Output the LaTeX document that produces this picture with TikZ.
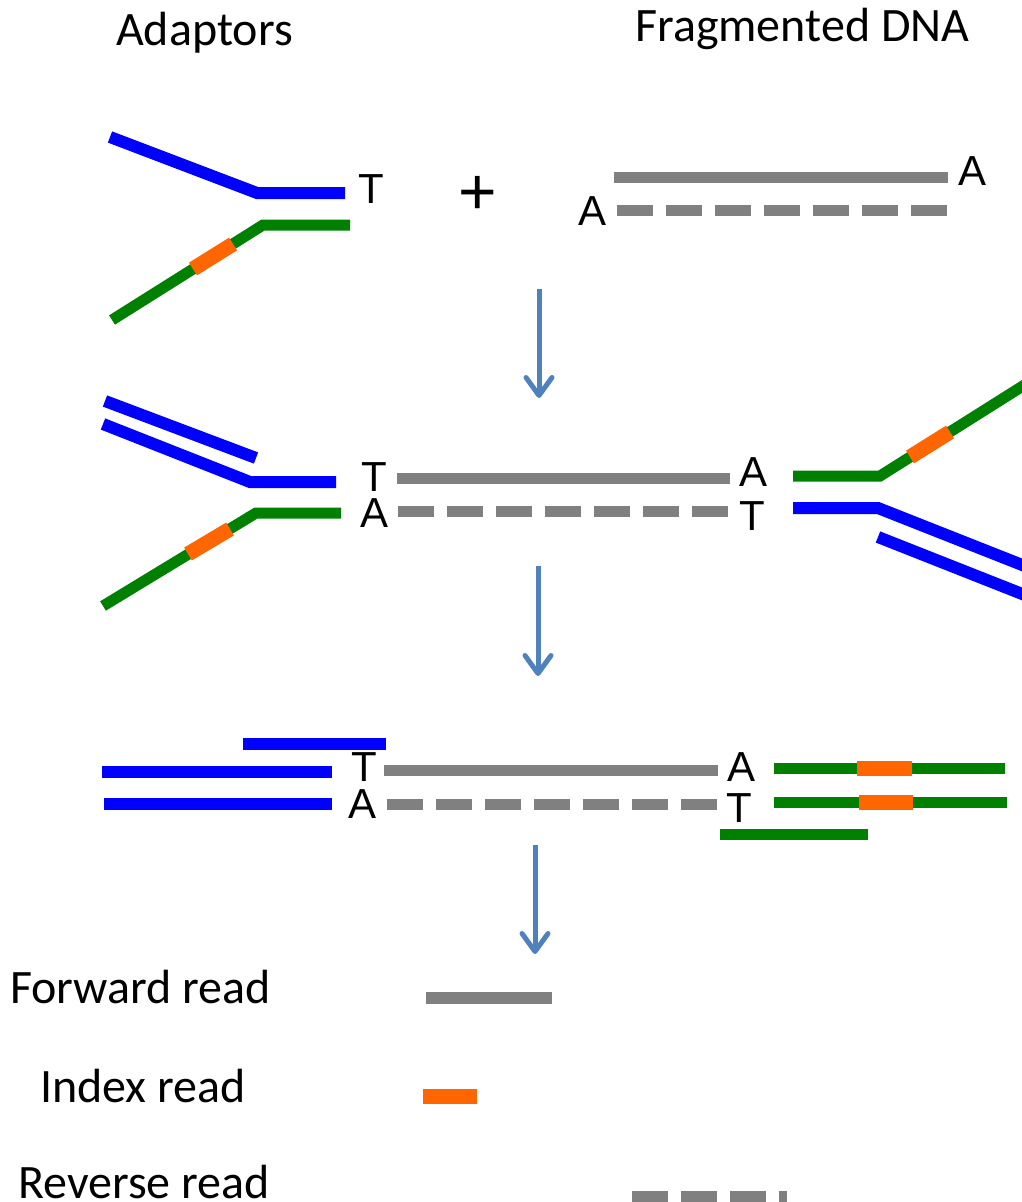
\documentclass[tikz,border=0pt]{standalone}
\usepackage{fontspec}
\setmainfont{Carlito}
\newfontfamily\basefont{Liberation Sans}
\usetikzlibrary{arrows.meta}
\definecolor{dnablue}{HTML}{0000FF}
\definecolor{dnagreen}{HTML}{008000}
\definecolor{dnagray}{HTML}{808080}
\definecolor{dnaorange}{HTML}{FF6600}
\definecolor{steparrow}{HTML}{4F81BD}
\tikzset{
  bluestrand/.style={draw=dnablue,line width=12pt,line join=miter},
  greenstrand/.style={draw=dnagreen,line width=11pt,line join=miter},
  graystrand/.style={draw=dnagray,line width=11pt},
  graydash/.style={draw=dnagray,line width=11pt,dash pattern=on 36pt off 13pt},
  indexbox/.style={draw=dnaorange,line width=15pt},
  baselabel/.style={font=\basefont\fontsize{42}{48}\selectfont,inner sep=0pt,text height=30pt,text depth=0pt},
  titlelabel/.style={font=\fontsize{48}{56}\selectfont,inner sep=0pt,anchor=base west},
  steparrowstyle/.style={draw=steparrow,line width=5pt,-{Straight Barb[length=18pt,width=26pt,line cap=round,line join=round]}}
}
\begin{document}
\begin{tikzpicture}[x=1pt,y=-1pt]
\useasboundingbox (0,0) rectangle (1022,1202);
\clip (0,0) rectangle (1022,1202);

% titles
\node[titlelabel] (tadapt) at (116,45) {Adaptors};
\node[titlelabel] (tfrag) at (635,41) {Fragmented DNA};

% ---------- stage 1 ----------
\draw[bluestrand] (110,137) -- (257,193) -- (345,193);
\draw[greenstrand] (350,225) -- (263,225) -- (112,320);
\draw[indexbox] (193,269) -- (233,244);
\node[baselabel] (t1) at (371,188) {T};
\node[font=\basefont\fontsize{66}{70}\selectfont,inner sep=0pt] (plus) at (478,195) {+};
\draw[graystrand] (614,177) -- (948,177);
\draw[graydash] (617,210) -- (947,210);
\node[baselabel] (a1r) at (972,170) {A};
\node[baselabel] (a1l) at (593,210) {A};

% arrow 1
\coordinate (s1a) at (539,289);
\coordinate (s1b) at (539,398);
\draw[steparrowstyle] (s1a) -- (s1b);

% ---------- stage 2 ----------
\draw[bluestrand] (105,401) -- (256,458);
\draw[bluestrand] (103,424) -- (250,482) -- (336,482);
\draw[greenstrand] (341,513) -- (256,513) -- (103,606);
\draw[indexbox] (188,554) -- (230,529);
\node[baselabel] (t2) at (374,476) {T};
\node[baselabel] (a2) at (375,512) {A};
\draw[graystrand] (397,478) -- (730,478);
\draw[graydash] (398,511) -- (728,511);
\node[baselabel] (a2r) at (753,471) {A};
\node[baselabel] (t2r) at (752,515) {T};
\draw[greenstrand] (793,476) -- (880,476) -- (1045,372);
\draw[indexbox] (910,457) -- (950,432);
\draw[bluestrand] (793,508) -- (878,508) -- (1045,574);
\draw[bluestrand] (878,537) -- (1045,603);

% arrow 2
\coordinate (s2a) at (538,566);
\coordinate (s2b) at (538,676);
\draw[steparrowstyle] (s2a) -- (s2b);

% ---------- stage 3 ----------
\draw[bluestrand] (243,744) -- (386,744);
\draw[bluestrand] (102,772) -- (332,772);
\draw[bluestrand] (104,804) -- (332,804);
\node[baselabel] (t3) at (364,766) {T};
\node[baselabel] (a3) at (363,803) {A};
\draw[graystrand] (384,770) -- (718,770);
\draw[graydash] (387,804) -- (717,804);
\node[baselabel] (a3r) at (741,766) {A};
\node[baselabel] (t3r) at (739,807) {T};
\draw[greenstrand] (774,768) -- (1005,768);
\draw[indexbox] (857,768) -- (912,768);
\draw[greenstrand] (774,802) -- (1007,802);
\draw[indexbox] (859,802) -- (913,802);
\draw[greenstrand] (720,834) -- (868,834);

% arrow 3
\coordinate (s3a) at (535,845);
\coordinate (s3b) at (535,954);
\draw[steparrowstyle] (s3a) -- (s3b);

% ---------- legend ----------
\node[titlelabel] (lfwd) at (10,1003) {Forward read};
\node[titlelabel] (lidx) at (40,1102) {Index read};
\node[titlelabel] (lrev) at (18,1198) {Reverse read};
\draw[graystrand,line width=12pt] (426,998) -- (552,998);
\draw[indexbox] (423,1096) -- (477,1096);
\draw[graydash] (632,1196) -- (787,1196);
\end{tikzpicture}
\end{document}
